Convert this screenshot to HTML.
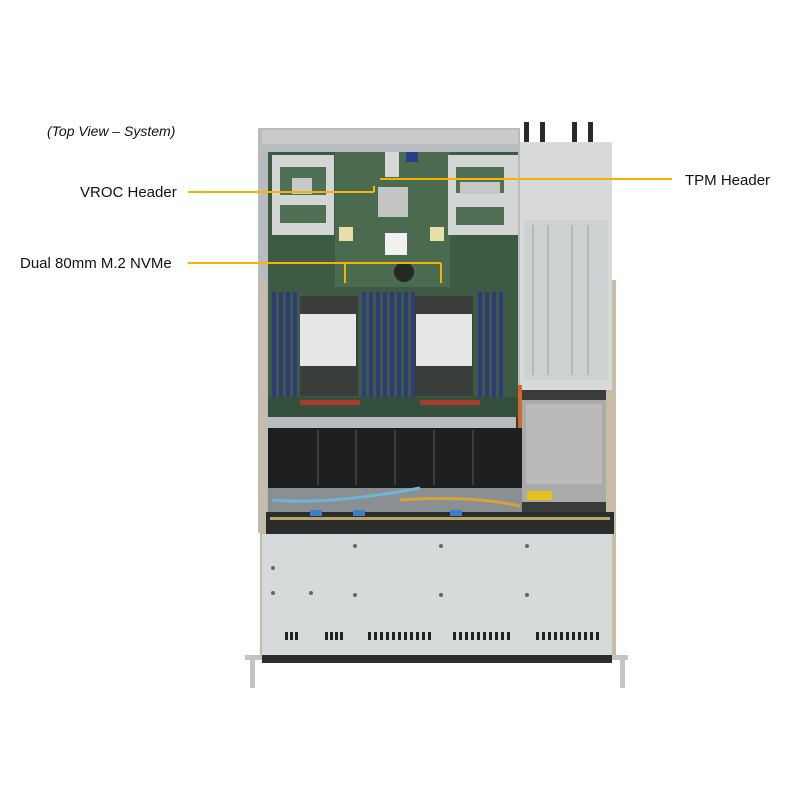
<!DOCTYPE html>
<html><head><meta charset="utf-8"><style>
html,body{margin:0;padding:0;background:#fff;width:800px;height:800px;overflow:hidden}
svg{display:block}
text{font-family:"Liberation Sans",Arial,sans-serif}
</style></head><body>
<svg width="800" height="800" viewBox="0 0 800 800" xmlns="http://www.w3.org/2000/svg">
<rect width="800" height="800" fill="#fff"/>
<!-- chassis frame -->
<rect x="258" y="128" width="262" height="405" fill="#b9bcbe"/>
<rect x="516" y="385" width="98" height="150" fill="#3a3b3b"/>
<rect x="606" y="280" width="10" height="380" fill="#c8bca8"/>
<rect x="260" y="280" width="6" height="380" fill="#c8bca8"/>
<!-- top rail -->
<rect x="262" y="130" width="256" height="14" fill="#c9cbcc"/>
<!-- motherboard -->
<rect x="268" y="152" width="250" height="265" fill="#3d5a44"/>
<rect x="335" y="152" width="115" height="135" fill="#4a6b50"/>
<!-- riser cages -->
<rect x="272" y="155" width="62" height="80" fill="#d4d6d6"/>
<rect x="280" y="167" width="46" height="28" fill="#4f7055"/>
<rect x="292" y="178" width="20" height="16" fill="#c6c9c7"/>
<rect x="280" y="205" width="46" height="18" fill="#4f7055"/>
<rect x="448" y="155" width="70" height="80" fill="#d4d6d6"/>
<rect x="456" y="167" width="48" height="26" fill="#4f7055"/>
<rect x="460" y="182" width="40" height="12" fill="#c6c9c7"/>
<rect x="456" y="207" width="48" height="18" fill="#4f7055"/>
<rect x="378" y="187" width="30" height="30" fill="#c4c6c6"/>
<rect x="385" y="152" width="14" height="25" fill="#d8d8d8"/>
<rect x="406" y="152" width="12" height="10" fill="#2a3f8a"/>
<rect x="339" y="227" width="14" height="14" fill="#e8dfa8"/>
<rect x="430" y="227" width="14" height="14" fill="#e8dfa8"/>
<rect x="385" y="233" width="22" height="22" fill="#f0f0f0"/>
<circle cx="404" cy="272" r="10" fill="#232a26"/>
<!-- DIMMs -->
<g fill="#2e3d7a">
<rect x="272" y="292" width="4" height="105"/><rect x="279" y="292" width="4" height="105"/><rect x="286" y="292" width="4" height="105"/><rect x="293" y="292" width="4" height="105"/>
<rect x="362" y="292" width="4" height="105"/><rect x="369" y="292" width="4" height="105"/><rect x="376" y="292" width="4" height="105"/><rect x="383" y="292" width="4" height="105"/>
<rect x="390" y="292" width="4" height="105"/><rect x="397" y="292" width="4" height="105"/><rect x="404" y="292" width="4" height="105"/><rect x="411" y="292" width="4" height="105"/>
<rect x="478" y="292" width="4" height="105"/><rect x="485" y="292" width="4" height="105"/><rect x="492" y="292" width="4" height="105"/><rect x="499" y="292" width="4" height="105"/>
</g>
<!-- CPUs -->
<rect x="300" y="296" width="58" height="100" fill="#3a3e3a"/>
<rect x="300" y="314" width="56" height="52" fill="#e6e6e4"/>
<rect x="415" y="296" width="58" height="100" fill="#3a3e3a"/>
<rect x="416" y="314" width="56" height="52" fill="#e6e6e4"/>
<rect x="268" y="397" width="250" height="20" fill="#33503c"/>
<g fill="#a83a2e"><rect x="300" y="400" width="60" height="5"/><rect x="420" y="400" width="60" height="5"/></g>
<!-- PSU right -->
<rect x="520" y="142" width="92" height="248" fill="#d7d9da"/>
<rect x="524" y="220" width="84" height="160" fill="#cfd2d3"/>
<g stroke="#b4b7b9" stroke-width="2"><line x1="533" y1="225" x2="533" y2="375"/><line x1="548" y1="225" x2="548" y2="375"/><line x1="572" y1="225" x2="572" y2="375"/><line x1="588" y1="225" x2="588" y2="375"/></g>
<rect x="524" y="122" width="5" height="20" fill="#2a2a2a"/><rect x="540" y="122" width="5" height="20" fill="#2a2a2a"/>
<rect x="572" y="122" width="5" height="20" fill="#2a2a2a"/><rect x="588" y="122" width="5" height="20" fill="#2a2a2a"/>
<rect x="518" y="385" width="4" height="45" fill="#d06a2a"/>
<!-- lower PSU -->
<rect x="522" y="400" width="84" height="102" fill="#a9abab"/>
<rect x="526" y="404" width="76" height="80" fill="#b8b9b8"/>
<rect x="527" y="491" width="25" height="9" fill="#e8c21c"/>
<!-- fans -->
<rect x="268" y="428" width="254" height="60" fill="#1e1f20"/>
<g stroke="#3a3b3c" stroke-width="2"><line x1="318" y1="430" x2="318" y2="485"/><line x1="356" y1="430" x2="356" y2="485"/><line x1="395" y1="430" x2="395" y2="485"/><line x1="434" y1="430" x2="434" y2="485"/><line x1="473" y1="430" x2="473" y2="485"/></g>
<rect x="268" y="488" width="254" height="28" fill="#8a9091"/>
<path d="M272 500 Q330 505 420 488" stroke="#6eb5d8" stroke-width="3" fill="none"/>
<path d="M400 500 Q470 495 520 506" stroke="#d8a23a" stroke-width="3" fill="none"/>
<!-- backplane -->
<rect x="266" y="512" width="348" height="22" fill="#2b2c2c"/>
<rect x="270" y="517" width="340" height="3" fill="#b7a56a"/>
<rect x="310" y="510" width="12" height="6" fill="#3a7fc8"/><rect x="353" y="510" width="12" height="6" fill="#3a7fc8"/><rect x="450" y="510" width="12" height="6" fill="#3a7fc8"/>
<!-- front bay -->
<rect x="262" y="534" width="350" height="123" fill="#d7dadb"/>
<rect x="262" y="655" width="350" height="8" fill="#2c2c2c"/>
<g fill="#222">
<rect x="285" y="632" width="3" height="8"/><rect x="290" y="632" width="3" height="8"/><rect x="295" y="632" width="3" height="8"/>
<rect x="325" y="632" width="3" height="8"/><rect x="330" y="632" width="3" height="8"/><rect x="335" y="632" width="3" height="8"/><rect x="340" y="632" width="3" height="8"/>
<rect x="368" y="632" width="3" height="8"/><rect x="374" y="632" width="3" height="8"/><rect x="380" y="632" width="3" height="8"/><rect x="386" y="632" width="3" height="8"/><rect x="392" y="632" width="3" height="8"/><rect x="398" y="632" width="3" height="8"/><rect x="404" y="632" width="3" height="8"/><rect x="410" y="632" width="3" height="8"/><rect x="416" y="632" width="3" height="8"/><rect x="422" y="632" width="3" height="8"/><rect x="428" y="632" width="3" height="8"/>
<rect x="453" y="632" width="3" height="8"/><rect x="459" y="632" width="3" height="8"/><rect x="465" y="632" width="3" height="8"/><rect x="471" y="632" width="3" height="8"/><rect x="477" y="632" width="3" height="8"/><rect x="483" y="632" width="3" height="8"/><rect x="489" y="632" width="3" height="8"/><rect x="495" y="632" width="3" height="8"/><rect x="501" y="632" width="3" height="8"/><rect x="507" y="632" width="3" height="8"/>
<rect x="536" y="632" width="3" height="8"/><rect x="542" y="632" width="3" height="8"/><rect x="548" y="632" width="3" height="8"/><rect x="554" y="632" width="3" height="8"/><rect x="560" y="632" width="3" height="8"/><rect x="566" y="632" width="3" height="8"/><rect x="572" y="632" width="3" height="8"/><rect x="578" y="632" width="3" height="8"/><rect x="584" y="632" width="3" height="8"/><rect x="590" y="632" width="3" height="8"/><rect x="596" y="632" width="3" height="8"/>
</g>
<g fill="#666"><circle cx="355" cy="546" r="2"/><circle cx="441" cy="546" r="2"/><circle cx="527" cy="546" r="2"/><circle cx="355" cy="595" r="2"/><circle cx="441" cy="595" r="2"/><circle cx="527" cy="595" r="2"/><circle cx="273" cy="568" r="2"/><circle cx="273" cy="593" r="2"/><circle cx="311" cy="593" r="2"/></g>
<!-- ears -->
<rect x="245" y="655" width="17" height="5" fill="#c4c4c4"/><rect x="250" y="660" width="5" height="28" fill="#c4c4c4"/>
<rect x="612" y="655" width="16" height="5" fill="#c4c4c4"/><rect x="620" y="660" width="5" height="28" fill="#c4c4c4"/>
<!-- callouts -->
<g stroke="#f5b400" stroke-width="2" fill="none">
<line x1="188" y1="192" x2="374" y2="192"/><line x1="374" y1="192" x2="374" y2="186"/>
<line x1="380" y1="179" x2="672" y2="179"/>
<line x1="188" y1="263" x2="441" y2="263"/>
<line x1="345" y1="263" x2="345" y2="283"/><line x1="441" y1="263" x2="441" y2="283"/>
</g>
<text x="47" y="136" font-size="14" font-style="italic" fill="#111">(Top View – System)</text>
<text x="80" y="197" font-size="15" fill="#111">VROC Header</text>
<text x="685" y="185" font-size="15" fill="#111">TPM Header</text>
<text x="20" y="268" font-size="15" fill="#111">Dual 80mm M.2 NVMe</text>
</svg>
</body></html>
